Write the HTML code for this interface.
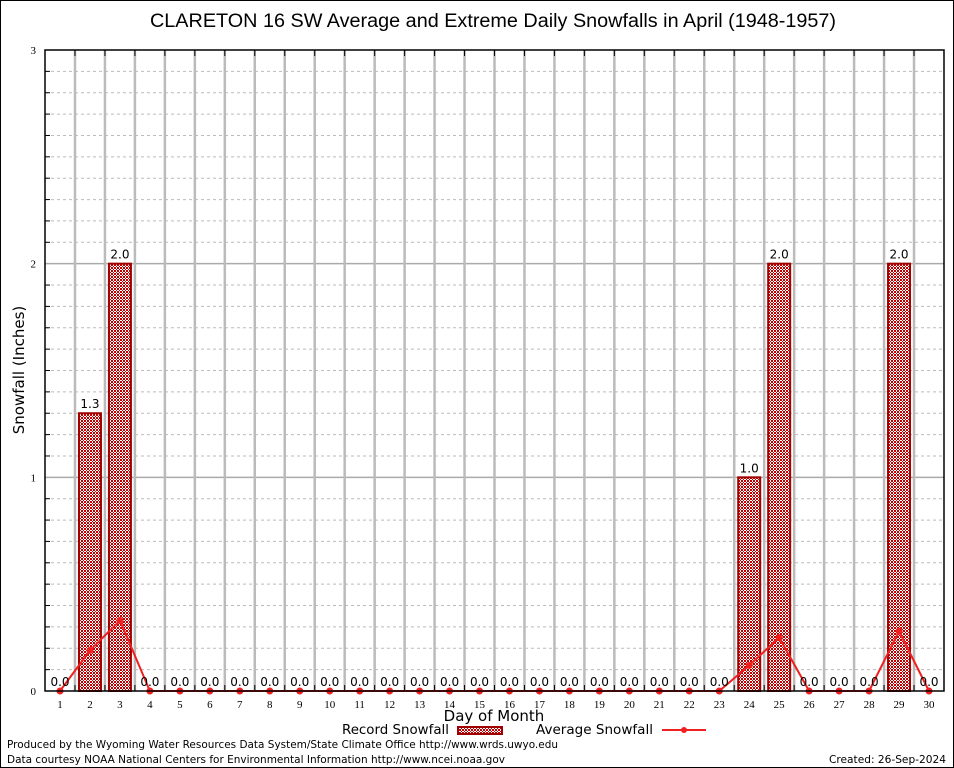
<!DOCTYPE html>
<html><head><meta charset="utf-8"><style>
body{margin:0;background:#fff}
svg{display:block;font-family:"DejaVu Sans","Liberation Sans",sans-serif}
</style></head><body>
<svg id="chart" width="954" height="768" viewBox="0 0 954 768">
<defs>
<pattern id="chk" width="3" height="3" patternUnits="userSpaceOnUse">
<rect width="3" height="3" fill="#fff"/>
<rect width="2" height="2" fill="#c00000"/>
<rect x="2" y="2" width="1" height="1" fill="#c00000"/>
</pattern>
</defs>
<rect x="0.5" y="0.5" width="953" height="767" fill="#fff" stroke="#000"/>
<text x="493" y="27" font-size="19" text-anchor="middle" textLength="686" lengthAdjust="spacingAndGlyphs" font-family="Liberation Sans, sans-serif">CLARETON 16 SW Average and Extreme Daily Snowfalls in April (1948-1957)</text>
<g id="grid"></g>
<g id="bars"></g>
<g id="line"></g>
<rect x="45" y="50" width="899" height="641" fill="none" stroke="#000" stroke-width="1.5"/>
<g id="labels"></g>
<text transform="translate(24,370) rotate(-90)" font-size="15" text-anchor="middle">Snowfall (Inches)</text>
<text x="494" y="721" font-size="15" text-anchor="middle">Day of Month</text>
<g>
<text x="342" y="734" font-size="13" textLength="107" lengthAdjust="spacingAndGlyphs">Record Snowfall</text>
<rect x="458" y="727" width="44" height="7" fill="url(#chk)" stroke="#a00000" stroke-width="2"/>
<text x="536" y="734" font-size="13" textLength="117" lengthAdjust="spacingAndGlyphs">Average Snowfall</text>
<line x1="662" y1="730" x2="706" y2="730" stroke="#f02020" stroke-width="2"/>
<circle cx="684" cy="730" r="3" fill="#f02020"/>
</g>
<text x="7" y="748" font-size="11" textLength="551" lengthAdjust="spacingAndGlyphs">Produced by the Wyoming Water Resources Data System/State Climate Office http://www.wrds.uwyo.edu</text>
<text x="7" y="763" font-size="11" textLength="498" lengthAdjust="spacingAndGlyphs">Data courtesy NOAA National Centers for Environmental Information http://www.ncei.noaa.gov</text>
<text x="829" y="763" font-size="11" textLength="117" lengthAdjust="spacingAndGlyphs">Created: 26-Sep-2024</text>
</svg>
<script>
const days=[1,2,3,4,5,6,7,8,9,10,11,12,13,14,15,16,17,18,19,20,21,22,23,24,25,26,27,28,29,30];
const recordSnow=[0,1.3,2.0,0,0,0,0,0,0,0,0,0,0,0,0,0,0,0,0,0,0,0,0,1.0,2.0,0,0,0,2.0,0];
const avgSnow=[0,0.19,0.33,0,0,0,0,0,0,0,0,0,0,0,0,0,0,0,0,0,0,0,0,0.12,0.25,0,0,0,0.28,0];
const yTicks=[0,1,2,3];
const NS="http://www.w3.org/2000/svg";
const L=45,R=944,T=50,B=691,yMax=3;
const xs=d=>60+(d-1)*(929-60)/29;
const ys=v=>B-(v/yMax)*(B-T);
function mk(tag,attrs,parent,txt){const e=document.createElementNS(NS,tag);for(const k in attrs)e.setAttribute(k,attrs[k]);if(txt!=null)e.textContent=txt;document.getElementById(parent).appendChild(e);return e;}
for(let i=1;i<30;i++){const v=i/10;if(i%10===0)continue;
const g=mk('line',{x1:L,x2:R,y1:ys(v),y2:ys(v),stroke:'#bbb','stroke-dasharray':'3,3'},'grid');


const t=mk('line',{x1:L,x2:L+5,y1:ys(v),y2:ys(v),stroke:'#000'},'grid');

}
yTicks.forEach(v=>{
if(v>0&&v<yMax){const g=mk('line',{x1:L,x2:R,y1:ys(v),y2:ys(v),stroke:'#aaa','stroke-width':1.5},'grid');

}
const t=mk('text',{x:36,y:ys(v)+4,'font-size':11,'text-anchor':'end','font-family':'Liberation Serif, serif'},'labels',String(v));

});
for(let i=1;i<days.length;i++){const x=xs(days[i-1]+0.5);
const g=mk('line',{x1:x,x2:x,y1:T,y2:B,stroke:'#bbb','stroke-width':2.5},'grid');


const t1=mk('line',{x1:x,x2:x,y1:T,y2:T+6,stroke:'#000'},'grid');


const t2=mk('line',{x1:x,x2:x,y1:B,y2:B-6,stroke:'#000'},'grid');

}
days.forEach((d,i)=>{const v=recordSnow[i];const x=xs(d);
if(v>0){const b=mk('rect',{x:x-11,y:ys(v),width:22,height:B-ys(v),fill:'url(#chk)',stroke:'#a00000','stroke-width':2},'bars');

}
const lb=mk('text',{x:x,y:ys(v)-5,'font-size':12,'text-anchor':'middle'},'labels',v.toFixed(1));


const xl=mk('text',{x:x,y:708,'font-size':11,'text-anchor':'middle','font-family':'Liberation Serif, serif'},'labels',String(d));

});
const pts=days.map((d,i)=>xs(d)+','+ys(avgSnow[i])).join(' ');
const pl=mk('polyline',{points:pts,fill:'none',stroke:'#f02020','stroke-width':2},'line');


days.forEach((d,i)=>{const c=mk('circle',{cx:xs(d),cy:ys(avgSnow[i]),r:3.5,fill:'#f02020'},'line');

});
</script>
</body></html>
